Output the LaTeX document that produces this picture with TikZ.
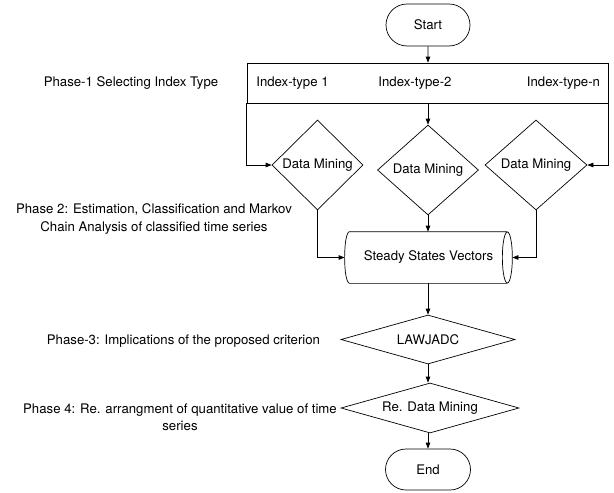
\documentclass[tikz,border=0pt]{standalone}
\usepackage{fontspec}
\setmainfont{TeX Gyre Heros}
\usetikzlibrary{shapes.geometric,shapes.misc,arrows.meta}
\begin{document}
\begin{tikzpicture}[x=1pt,y=-1pt,font=\fontsize{13.2}{17.5}\selectfont,line width=0.7pt,
  term/.style={draw,rounded rectangle,minimum width=84pt,minimum height=42pt,inner sep=0pt},
  decide/.style={draw,diamond,inner sep=0pt},
  flow/.style={-{Triangle[length=6pt,width=4.5pt]}}]
\useasboundingbox (0,0) rectangle (614,493);

\node[term] (start) at (428,25) {Start};
\node[draw,minimum width=361pt,minimum height=40pt,inner sep=0pt] (idx) at (427.5,83) {};
\node (it1) at (292.5,83) {Index-type 1};
\node (it2) at (415,83) {Index-type-2};
\node (itn) at (563.5,83) {Index-type-n};

\node[decide,minimum width=91pt,minimum height=90pt] (dm1) at (317.5,165) {Data Mining};
\node[decide,minimum width=101pt,minimum height=90pt] (dm2) at (428,170) {Data Mining};
\node[decide,minimum width=102pt,minimum height=90pt] (dm3) at (536,165) {Data Mining};
\node[minimum width=167pt,minimum height=51pt,inner sep=0pt] (ssv) at (428.5,257.5) {Steady States Vectors};
\draw ([xshift=5pt]ssv.north west) -- ([xshift=-5pt]ssv.north east)
  ([xshift=5pt]ssv.south west) -- ([xshift=-5pt]ssv.south east)
  ([xshift=5pt]ssv.north west) .. controls ([xshift=-1.7pt]ssv.north west) and ([xshift=-1.7pt]ssv.south west) .. ([xshift=5pt]ssv.south west)
  ([xshift=-5pt]ssv.east) ellipse [x radius=5pt,y radius=25.5pt];
\node[decide,aspect=3.5,minimum width=174pt,minimum height=49pt] (law) at (428,339.5) {LAWJADC};
\node[decide,aspect=3.5,minimum width=178pt,minimum height=50pt] (redm) at (430,408) {Re. Data Mining};
\node[term,minimum width=85pt,minimum height=41pt] (end) at (428,469.5) {End};

\node (ph1) at (131,83) {Phase-1 Selecting Index Type};
\node[align=center] (ph2) at (154,219) {Phase 2: Estimation, Classification and Markov\\Chain Analysis of classified time series};
\node (ph3) at (183.5,341) {Phase-3: Implications of the proposed criterion};
\node[align=center] (ph4) at (180,417.5) {Phase 4: Re. arrangment of quantitative value of time\\series};

\draw[flow] (start) -- (start |- idx.north);
\draw[flow] (idx.south west) |- (dm1.west);
\draw[flow] (idx.south -| dm2) -- (dm2.north);
\draw[flow] (idx.south east) |- (dm3.east);
\draw[flow] (dm1.south) |- (ssv.west);
\draw[flow] (dm2.south) -- (dm2.south |- ssv.north);
\draw[flow] (dm3.south) |- (ssv.east);
\draw[flow] (ssv.south -| law) -- (law.north);
\draw[flow] (law.south) -- (law.south |- redm.north);
\draw[flow] (end |- redm.south) -- (end.north);

\end{tikzpicture}
\end{document}
